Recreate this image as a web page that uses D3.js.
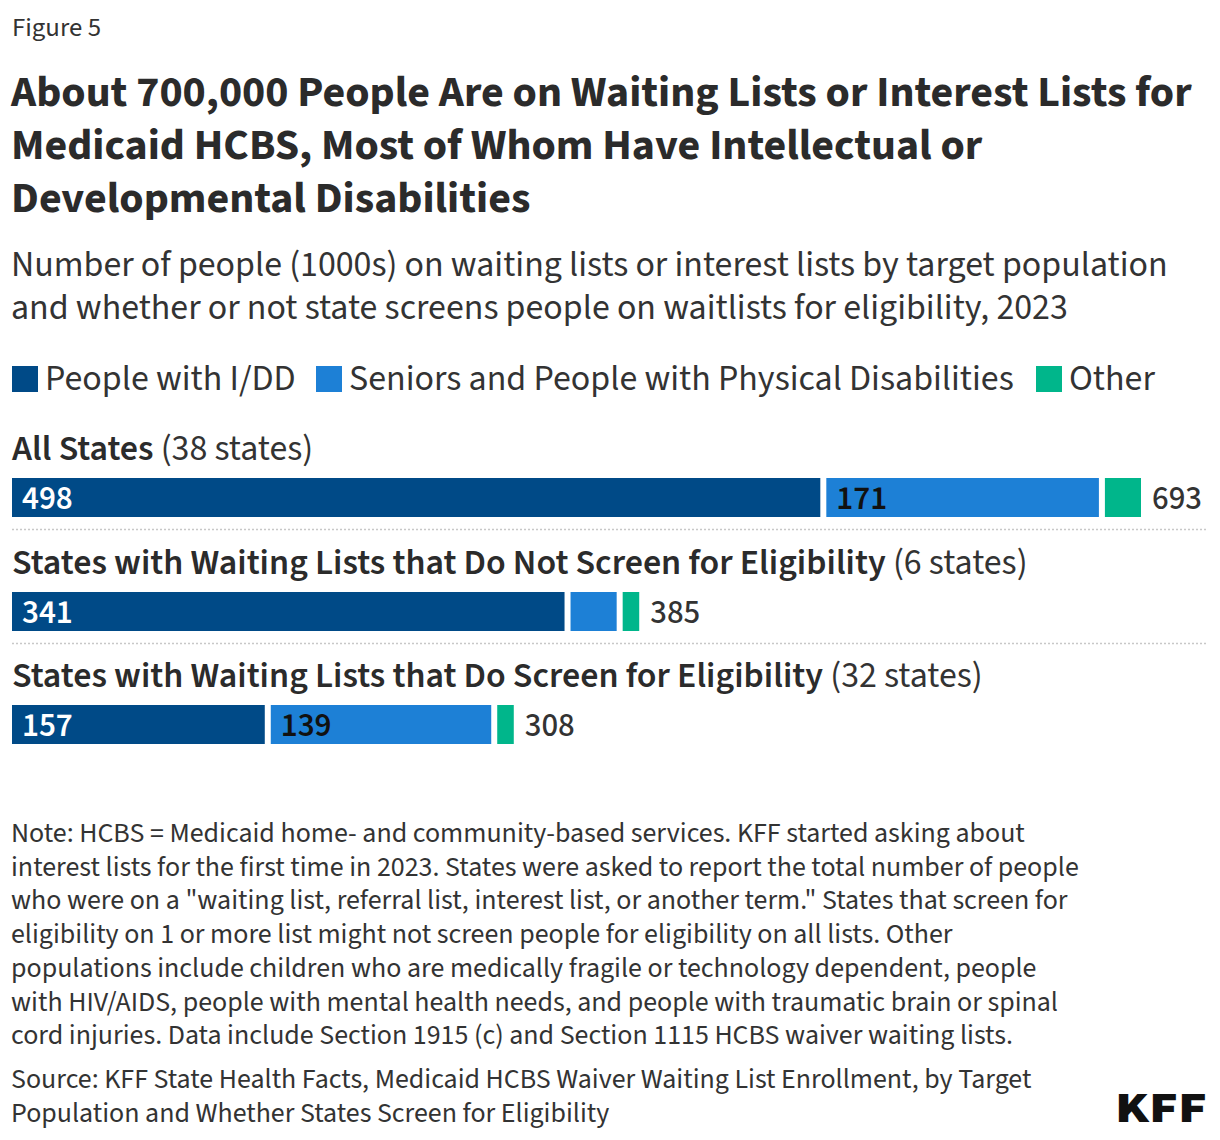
<!DOCTYPE html>
<html>
<head>
<meta charset="utf-8">
<script src="https://cdn.jsdelivr.net/npm/d3@7"></script>
<style>
  html, body { margin: 0; padding: 0; background: #fff; }
  svg { display: block; }
  text { font-family: "Source Sans Pro", "Source Sans 3", Lato, "Noto Sans", sans-serif; }
</style>
</head>
<body>
<svg id="chart" width="1220" height="1140"></svg>
<script>
// ---- data ----
const categories = [
  "All States",
  "States with Waiting Lists that Do Not Screen for Eligibility",
  "States with Waiting Lists that Do Screen for Eligibility"
];
const stateCounts = ["(38 states)", "(6 states)", "(32 states)"];
const seriesNames = ["People with I/DD", "Seniors and People with Physical Disabilities", "Other"];
const iddValues = [498, 341, 157];
const seniorsValues = [171, 32, 139];
const otherValues = [24, 12, 12];
const totals = [693, 385, 308];

const titleLines = [
  "About 700,000 People Are on Waiting Lists or Interest Lists for",
  "Medicaid HCBS, Most of Whom Have Intellectual or",
  "Developmental Disabilities"
];
const subtitleLines = [
  "Number of people (1000s) on waiting lists or interest lists by target population",
  "and whether or not state screens people on waitlists for eligibility, 2023"
];
const noteLines = [
  "Note: HCBS = Medicaid home- and community-based services. KFF started asking about",
  "interest lists for the first time in 2023. States were asked to report the total number of people",
  "who were on a \"waiting list, referral list, interest list, or another term.\" States that screen for",
  "eligibility on 1 or more list might not screen people for eligibility on all lists. Other",
  "populations include children who are medically fragile or technology dependent, people",
  "with HIV/AIDS, people with mental health needs, and people with traumatic brain or spinal",
  "cord injuries. Data include Section 1915 (c) and Section 1115 HCBS waiver waiting lists."
];
const sourceLines = [
  "Source: KFF State Health Facts, Medicaid HCBS Waiver Waiting List Enrollment, by Target",
  "Population and Whether States Screen for Eligibility"
];

// ---- styles ----
const colors = ["#004a87", "#1d80d6", "#00b68b"];
const labelColors = ["#ffffff", "#111111", "#111111"];
const textColor = "#333333";

const svg = d3.select("#chart");

// fit a block of text elements to target widths using one common font size
function fitBlock(sel, targets, base) {
  const ratios = [];
  sel.each(function(d, i) {
    const w = this.getComputedTextLength();
    if (w > 0 && targets[i]) ratios.push(targets[i] / w);
  });
  const r = d3.median(ratios) || 1;
  const size = Math.max(base * 0.85, Math.min(base * 1.15, base * r));
  sel.attr("font-size", size);
  return size;
}

// Figure label
const fig = svg.append("text").attr("x", 12).attr("y", 36)
  .attr("fill", textColor).attr("font-size", 24).text("Figure 5");
fitBlock(fig, [89], 24);

// Title
const title = svg.selectAll("text.title").data(titleLines).join("text")
  .attr("class", "title")
  .attr("x", 11).attr("y", (d, i) => 106 + i * 53)
  .attr("font-weight", 700).attr("fill", "#2b2b2b").attr("font-size", 40)
  .text(d => d);
fitBlock(title, [1181, 972, 519], 40);

// Subtitle
const sub = svg.selectAll("text.sub").data(subtitleLines).join("text")
  .attr("class", "sub")
  .attr("x", 11).attr("y", (d, i) => 276 + i * 43)
  .attr("fill", textColor).attr("font-size", 32)
  .text(d => d);
fitBlock(sub, [1157, 1057], 32);

// Legend
const legendX = [12, 316, 1036];
const legendW = [282, 698, 119];
const lg = svg.append("g").selectAll("g").data(seriesNames).join("g")
  .attr("transform", (d, i) => `translate(${legendX[i]},366)`);
lg.append("rect").attr("width", 26).attr("height", 26).attr("fill", (d, i) => colors[i]);
const lgText = lg.append("text").attr("x", 33).attr("y", 24)
  .attr("fill", textColor).attr("font-size", 32).text(d => d);
fitBlock(lgText, legendW.map(w => w - 33), 32);

// Scales
const x = d3.scaleLinear().domain([0, d3.max(totals)]).range([12, 1141]);
const rowTop = [478, 592, 705];
const barH = 39;
const gap = 6;

// Row labels
const rowLabels = svg.selectAll("text.rowlabel").data(categories).join("text")
  .attr("class", "rowlabel")
  .attr("x", 12).attr("y", (d, i) => rowTop[i] - 18)
  .attr("fill", "#2b2b2b").attr("font-size", 32);
rowLabels.append("tspan").attr("font-weight", 600).text(d => d);
rowLabels.append("tspan").attr("font-weight", 400).attr("fill", textColor)
  .text((d, i) => " " + stateCounts[i]);
fitBlock(rowLabels, [300, 1016, 971], 32);

// Stacked bars
const seriesValues = [iddValues, seniorsValues, otherValues];
const rows = categories.map((c, r) => {
  let cum = 0;
  return seriesValues.map((vals, s) => {
    const seg = { row: r, s, v: vals[r], start: cum, end: cum + vals[r] };
    cum += vals[r];
    return seg;
  });
});
const segs = rows.flat();
svg.append("g").selectAll("rect").data(segs).join("rect")
  .attr("x", d => x(d.start) + (d.s > 0 ? gap / 2 : 0))
  .attr("y", d => rowTop[d.row])
  .attr("width", d => x(d.end) - x(d.start) - (d.s > 0 ? gap / 2 : 0) - (d.s < 2 ? gap / 2 : 0))
  .attr("height", barH)
  .attr("fill", d => colors[d.s]);

// Segment labels
svg.append("g").selectAll("text").data(segs.filter(d => x(d.end) - x(d.start) > 60)).join("text")
  .attr("x", d => x(d.start) + (d.s > 0 ? gap / 2 : 0) + 10)
  .attr("y", d => rowTop[d.row] + barH / 2 + 11)
  .attr("font-size", 33).attr("font-weight", 600)
  .attr("fill", d => labelColors[d.s])
  .text(d => d.v);

// Totals
svg.append("g").selectAll("text").data(totals).join("text")
  .attr("x", d => x(d) + 11)
  .attr("y", (d, i) => rowTop[i] + barH / 2 + 11)
  .attr("font-size", 33).attr("font-weight", 500)
  .attr("fill", textColor)
  .text(d => d);

// Dotted separators
svg.append("g").selectAll("line").data([0, 1]).join("line")
  .attr("x1", 12).attr("x2", 1208)
  .attr("y1", i => rowTop[i] + barH + 12.5).attr("y2", i => rowTop[i] + barH + 12.5)
  .attr("stroke", "#c8c8c8").attr("stroke-width", 1.5)
  .attr("stroke-dasharray", "2,2");

// Notes
const notes = svg.selectAll("text.note").data(noteLines).join("text")
  .attr("class", "note")
  .attr("x", 11).attr("y", (d, i) => 842 + i * 33.7)
  .attr("fill", textColor).attr("font-size", 25)
  .text(d => d);
fitBlock(notes, [1015, 1069, 1057, 943, 1026, 1047, 1002], 25);

const src = svg.selectAll("text.src").data(sourceLines).join("text")
  .attr("class", "src")
  .attr("x", 11).attr("y", (d, i) => 1088 + i * 33.7)
  .attr("fill", textColor).attr("font-size", 25)
  .text(d => d);
fitBlock(src, [1022, 598], 25);

// KFF logo
svg.append("text").attr("x", 1115).attr("y", 1122)
  .attr("font-family", "Inter, Roboto, sans-serif")
  .attr("font-weight", 900).attr("font-size", 42)
  .attr("fill", "#111111")
  .attr("textLength", 92).attr("lengthAdjust", "spacingAndGlyphs")
  .text("KFF");
</script>
</body>
</html>
